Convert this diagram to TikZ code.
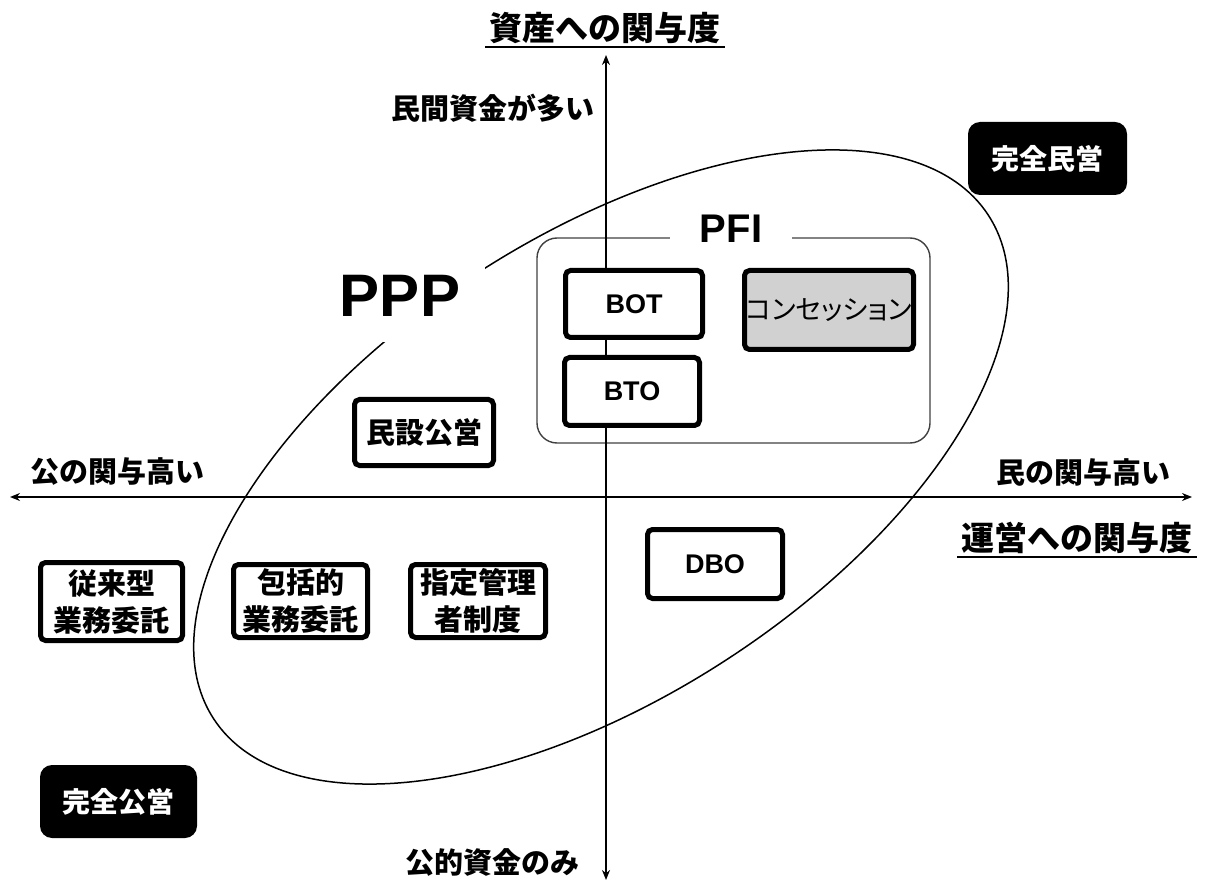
\documentclass[tikz,border=0pt]{standalone}
\usepackage{fontspec}
\newfontfamily\jp{Noto Sans CJK JP}
\newfontfamily\jpp{Noto Sans CJK JP}[RawFeature=+palt]
\newfontfamily\lat{Liberation Sans}
\usetikzlibrary{arrows.meta}
\begin{document}
\begin{tikzpicture}[x=1pt,y=-1pt,
  box/.style={draw, line width=5pt, rounded corners=5pt, fill=white, inner sep=0pt,
    align=center, font=\jp\bfseries\fontsize{29}{37}\selectfont},
  latbox/.style={box, font=\lat\bfseries\fontsize{27}{30}\selectfont},
  blk/.style={fill=black, text=white, rounded corners=12pt, inner sep=0pt,
    font=\jp\bfseries\fontsize{28}{34}\selectfont},
  lab/.style={inner sep=0pt, font=\jp\bfseries\fontsize{29}{34}\selectfont},
  biglab/.style={inner sep=0pt, font=\jp\bfseries\fontsize{33}{38}\selectfont},
  axis/.style={line width=2.2pt, {Stealth[length=10pt,width=8pt]}-{Stealth[length=10pt,width=8pt]}},
  uline/.style={line width=1.6pt}
]
\useasboundingbox (0,0) rectangle (1205,882);

% PPP ellipse
\draw[line width=1.5pt, rotate around={33:(601,467)}] (601,467) ellipse [x radius=462, y radius=230];

% PFI frame
\draw[line width=1.4pt, black!75, rounded corners=20pt] (537,238) rectangle (930,443);

% axes
\coordinate (vtop) at (606,55);
\coordinate (vbot) at (606,880);
\coordinate (hl) at (10,497);
\coordinate (hr) at (1192,497);
\draw[axis] (vbot) -- (vtop);
\draw[axis] (hl) -- (hr);

% labels
\node[biglab] (ytitle) at (605,28) {資産への関与度};
\draw[uline] ([xshift=-4pt,yshift=-3pt]ytitle.south west) -- ([xshift=4pt,yshift=-3pt]ytitle.south east);
\node[biglab] (xtitle) at (1077,538) {運営への関与度};
\draw[uline] ([xshift=-4pt,yshift=-3pt]xtitle.south west) -- ([xshift=4pt,yshift=-3pt]xtitle.south east);
\node[lab, anchor=east] (yplus) at (595,108) {民間資金が多い};
\node[lab] (yminus) at (492,862) {公的資金のみ};
\node[lab] (xminus) at (117,472) {公の関与高い};
\node[lab] (xplus) at (1083,472) {民の関与高い};

% PPP and PFI titles
\node[fill=white, inner xsep=25pt, inner ysep=25pt, font=\lat\bfseries\fontsize{60}{60}\selectfont] (ppp) at (400,296) {PPP};
\node[fill=white, inner xsep=30pt, inner ysep=2pt, font=\lat\bfseries\fontsize{40}{40}\selectfont] (pfi) at (731,229) {PFI};

% boxes
\node[latbox, minimum width=137pt, minimum height=67pt] (bot) at (634,304) {BOT};
\node[latbox, minimum width=135pt, minimum height=68pt] (bto) at (632,391.5) {BTO};
\node[box, fill=black!18, minimum width=169pt, minimum height=79pt, font=\jpp\fontsize{27}{32}\selectfont] (conc) at (829,310) {コンセッション};
\node[box, minimum width=139pt, minimum height=66pt] (minsetsu) at (424,432.5) {民設公営};
\node[latbox, minimum width=135pt, minimum height=69pt] (dbo) at (715,564) {DBO};
\node[box, minimum width=142pt, minimum height=78pt] (juurai) at (111.5,601.5) {従来型\\業務委託};
\node[box, minimum width=134pt, minimum height=73pt] (houkatsu) at (300.5,601) {包括的\\業務委託};
\node[box, minimum width=135pt, minimum height=73pt] (shitei) at (478,601) {指定管理\\者制度};

\node[blk, minimum width=159pt, minimum height=73pt] (kanmin) at (1047.5,158.5) {完全民営};
\node[blk, minimum width=157pt, minimum height=73pt] (kankou) at (118.5,801.5) {完全公営};
\end{tikzpicture}
\end{document}
